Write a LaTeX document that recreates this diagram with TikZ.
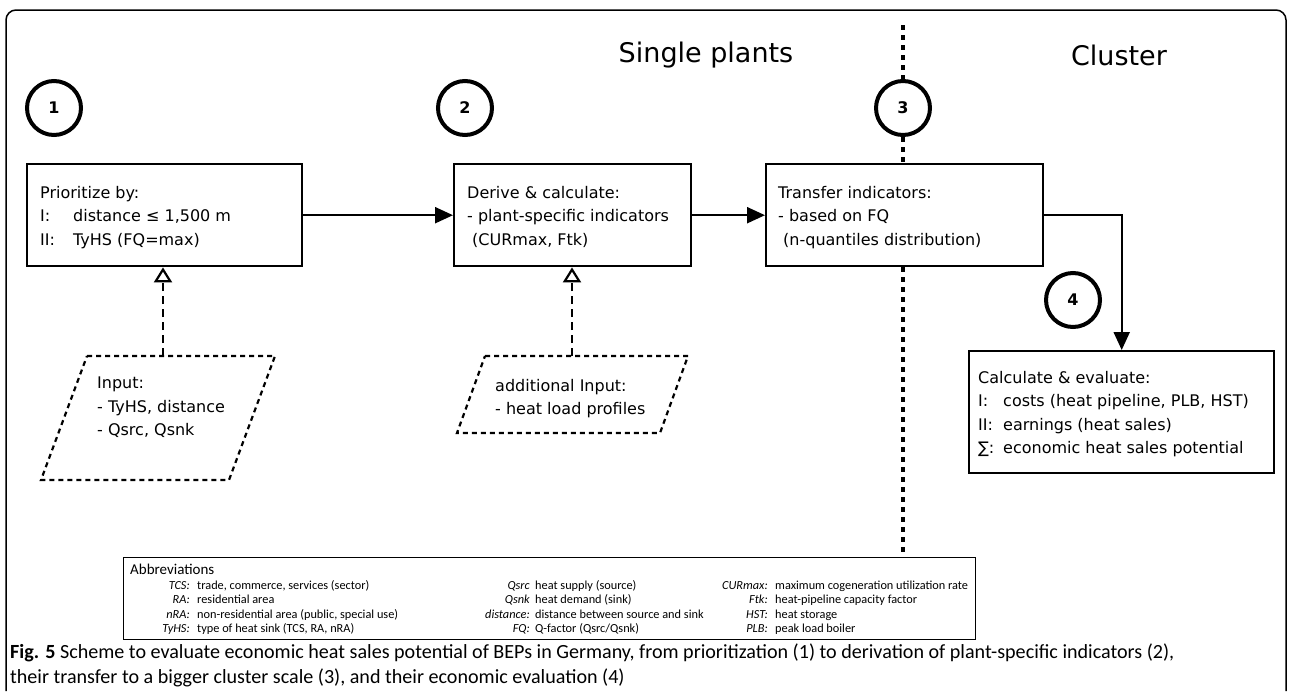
\documentclass[tikz,border=0pt]{standalone}
\usepackage{fontspec}
\setmainfont{DejaVu Sans}
\newfontfamily\capfont{Carlito}
\usetikzlibrary{arrows.meta,calc}
\begin{document}
\begin{tikzpicture}[x=1pt,y=-1pt,
  box/.style={draw, line width=2.4pt, inner sep=0pt, anchor=north west},
  num/.style={draw, circle, line width=4pt, minimum size=54pt, inner sep=0pt, font=\bfseries\fontsize{16}{16}\selectfont},
  txt/.style={anchor=north west, align=left, inner sep=0pt, font=\fontsize{16}{23.5}\selectfont},
  title/.style={inner sep=0pt, font=\fontsize{27}{30}\selectfont},
  flow/.style={line width=2.2pt, -{Triangle[length=18pt,width=16pt]}},
  inarrow/.style={line width=2.2pt, dash pattern=on 8pt off 5pt, -{Triangle[open,length=15pt,width=18pt,line width=2.2pt]}},
  para/.style={line width=2.2pt, dash pattern=on 5pt off 4pt},
  divider/.style={line width=3.8pt, dash pattern=on 5pt off 5pt},
  abl/.style={anchor=base east, inner sep=0pt, font=\capfont\itshape\fontsize{12.3}{13}\selectfont},
  abd/.style={anchor=base west, inner sep=0pt, font=\capfont\fontsize{12.3}{13}\selectfont},
  captxt/.style={anchor=base west, inner sep=0pt, font=\capfont\fontsize{20.1}{22}\selectfont},
]
\useasboundingbox (0,0) rectangle (1290,691);
% outer frame (open at the bottom)
\draw[line width=1.5pt, rounded corners=10pt] (6,691) -- (6,10) -- (1286,10) -- (1286,691);

% titles
\node[title] (sp) at (706,55) {Single plants};
\node[title] (cl) at (1119,55) {Cluster};

% step numbers
\node[num] (c1) at (54,108) {1};
\node[num] (c2) at (465,108) {2};
\node[num] (c3) at (903,108) {3};
\node[num] (c4) at (1073,300) {4};

% boxes
\node[box, minimum width=275pt, minimum height=102pt] (b1) at (26,163) {};
\node[box, minimum width=237pt, minimum height=102pt] (b2) at (453,163) {};
\node[box, minimum width=277pt, minimum height=102pt] (b3) at (765,163) {};
\node[box, minimum width=305pt, minimum height=122pt] (b4) at (968,350) {};

\node[txt] (t1) at (40,186) {Prioritize by:\\\makebox[33pt][l]{I:}distance ≤ 1,500 m\\\makebox[33pt][l]{II:}TyHS (FQ=max)};
\node[txt] (t2) at (467,186) {Derive \& calculate:\\- plant-specific indicators\\\hspace*{5pt}(CURmax, Ftk)};
\node[txt] (t3) at (778,186) {Transfer indicators:\\- based on FQ\\\hspace*{5pt}(n-quantiles distribution)};
\node[txt] (t4) at (978,371) {Calculate \& evaluate:\\\makebox[25pt][l]{I:}costs (heat pipeline, PLB, HST)\\\makebox[25pt][l]{II:}earnings (heat sales)\\\makebox[25pt][l]{∑:}economic heat sales potential};

% flow arrows
\draw[flow] (b1.east) -- (b2.west);
\draw[flow] (b2.east) -- (b3.west);
\draw[flow] (b3.east) -| (b4.north);

% input parallelograms
\draw[para] (87,356) -- (275,356) -- (229,480) -- (41,480) -- cycle;
\coordinate (p1) at (163,356);
\node[txt] (i1) at (97,377) {Input:\\- TyHS, distance\\- Qsrc, Qsnk};
\draw[inarrow] (p1) -- (p1 |- b1.south);

\draw[para] (485,356) -- (688,356) -- (660,433) -- (457,433) -- cycle;
\coordinate (p2) at (572,356);
\node[txt] (i2) at (495,379) {additional Input:\\- heat load profiles};
\draw[inarrow] (p2) -- (p2 |- b2.south);

% abbreviations
\node[draw, line width=1.2pt, minimum width=852pt, minimum height=82pt, inner sep=0pt, anchor=north west] (ab) at (123,557) {};
\node[anchor=base west, inner sep=0pt, font=\capfont\fontsize{15}{15}\selectfont] (abt) at (130,574) {Abbreviations};
\node[abl] (l11) at (190,589) {TCS:};      \node[abd] (d11) at (197,589) {trade, commerce, services (sector)};
\node[abl] (l12) at (190,603.5) {RA:};     \node[abd] (d12) at (197,603.5) {residential area};
\node[abl] (l13) at (190,618) {nRA:};      \node[abd] (d13) at (197,618) {non-residential area (public, special use)};
\node[abl] (l14) at (190,632.5) {TyHS:};   \node[abd] (d14) at (197,632.5) {type of heat sink (TCS, RA, nRA)};
\node[abl] (l21) at (530,589) {Qsrc};      \node[abd] (d21) at (535,589) {heat supply (source)};
\node[abl] (l22) at (530,603.5) {Qsnk};    \node[abd] (d22) at (535,603.5) {heat demand (sink)};
\node[abl] (l23) at (530,618) {distance:}; \node[abd] (d23) at (535,618) {distance between source and sink};
\node[abl] (l24) at (530,632.5) {FQ:};     \node[abd] (d24) at (535,632.5) {Q-factor (Qsrc/Qsnk)};
\node[abl] (l31) at (768,589) {CURmax:};   \node[abd] (d31) at (775,589) {maximum cogeneration utilization rate};
\node[abl] (l32) at (768,603.5) {Ftk:};    \node[abd] (d32) at (775,603.5) {heat-pipeline capacity factor};
\node[abl] (l33) at (768,618) {HST:};      \node[abd] (d33) at (775,618) {heat storage};
\node[abl] (l34) at (768,632.5) {PLB:};    \node[abd] (d34) at (775,632.5) {peak load boiler};

% divider
\coordinate (d0) at (903,25);
\draw[divider] (d0) -- (c3.north);
\draw[divider] (c3.south) -- (c3.south |- b3.north);
\draw[divider] (c3.south |- b3.south) -- (c3.south |- ab.north);

% caption
\node[captxt] (cap1) at (10,658) {\textbf{Fig. 5} Scheme to evaluate economic heat sales potential of BEPs in Germany, from prioritization (1) to derivation of plant-specific indicators (2),};
\node[captxt] (cap2) at (10,683) {their transfer to a bigger cluster scale (3), and their economic evaluation (4)};
\end{tikzpicture}
\end{document}
